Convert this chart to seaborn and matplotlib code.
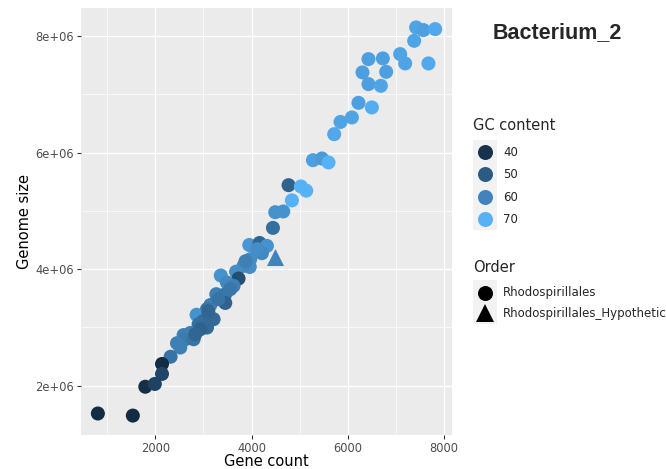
import numpy as np
import pandas as pd
import matplotlib
matplotlib.use("Agg")
import matplotlib.pyplot as plt
from matplotlib.colors import ListedColormap, Normalize
from matplotlib.lines import Line2D
from matplotlib.patches import Rectangle
import seaborn as sns

# ---- data -------------------------------------------------------------
gene_count = [7421, 7573, 7816, 7380, 7089, 7193, 7677, 6430, 6729, 6306,
              6798, 6430, 6688, 6223, 6501, 6086, 5849, 5718, 5276, 5463,
              5600, 4769, 5026, 5137, 4839, 4493, 4659, 4445, 3953, 4167,
              4320, 4216, 3973, 3963, 3834, 3678, 3361, 3730, 3489, 3626,
              3267, 3454, 3454, 3143, 3074, 2858, 3143, 3003, 3211, 2900,
              3074, 2727, 2588, 2623, 2451, 2796, 2519, 2318, 2935, 2831,
              3101, 3309, 3558, 3875, 4119, 2139, 2139, 1792, 1990, 806,
              1533, 4493]
genome_size = [8.149e6, 8.103e6, 8.120e6, 7.919e6, 7.691e6, 7.531e6, 7.531e6,
               7.605e6, 7.617e6, 7.377e6, 7.387e6, 7.176e6, 7.147e6, 6.855e6,
               6.776e6, 6.604e6, 6.527e6, 6.317e6, 5.871e6, 5.900e6, 5.832e6,
               5.442e6, 5.420e6, 5.348e6, 5.181e6, 4.978e6, 4.991e6, 4.709e6,
               4.415e6, 4.450e6, 4.400e6, 4.275e6, 4.172e6, 4.038e6, 4.057e6,
               3.957e6, 3.892e6, 3.840e6, 3.772e6, 3.713e6, 3.571e6, 3.571e6,
               3.421e6, 3.385e6, 3.313e6, 3.219e6, 3.171e6, 3.112e6, 3.142e6,
               3.056e6, 2.999e6, 2.906e6, 2.870e6, 2.798e6, 2.730e6, 2.798e6,
               2.656e6, 2.498e6, 2.970e6, 2.884e6, 3.279e6, 3.485e6, 3.657e6,
               4.137e6, 4.343e6, 2.374e6, 2.203e6, 1.983e6, 2.031e6, 1.524e6,
               1.488e6, 4.201e6]
gc_content = [67, 66, 68, 67, 67, 67, 68, 66, 66, 66,
              66, 66, 67, 66, 69, 67, 67, 68, 66, 65,
              70, 52, 70, 70, 70, 63, 63, 55, 64, 53,
              63, 61, 62, 62, 61, 62, 63, 47, 61, 59,
              59, 57, 52, 59, 56, 63, 54, 54, 54, 55,
              54, 59, 59, 58, 59, 56, 59, 56, 52, 53,
              53, 56, 57, 59, 62, 38, 45, 39, 44, 38,
              38, 60]
order = ["Rhodospirillales"] * 71 + ["Rhodospirillales_Hypothetic"]

order_levels = ["Rhodospirillales", "Rhodospirillales_Hypothetic"]
gc_breaks = [40, 50, 60, 70]

df = pd.DataFrame({"gene": gene_count, "genome": genome_size,
                   "gc": gc_content, "order": order})


# ---- colour gradient interpolated in CIE Lab ---------------------------
def _hex_to_rgb(h):
    h = h.lstrip("#")
    return np.array([int(h[i:i + 2], 16) / 255 for i in (0, 2, 4)])

_M = np.array([[0.4124, 0.3576, 0.1805],
               [0.2126, 0.7152, 0.0722],
               [0.0193, 0.1192, 0.9505]])
_WHITE = np.array([0.95047, 1.0, 1.08883])

def _rgb_to_lab(rgb):
    lin = np.where(rgb <= 0.04045, rgb / 12.92, ((rgb + 0.055) / 1.055) ** 2.4)
    xyz = _M @ lin / _WHITE
    f = np.where(xyz > 216 / 24389, np.cbrt(xyz), (24389 / 27 * xyz + 16) / 116)
    return np.array([116 * f[1] - 16, 500 * (f[0] - f[1]), 200 * (f[1] - f[2])])

def _lab_to_rgb(lab):
    fy = (lab[0] + 16) / 116
    fx = fy + lab[1] / 500
    fz = fy - lab[2] / 200
    f = np.array([fx, fy, fz])
    xyz = np.where(f ** 3 > 216 / 24389, f ** 3, (116 * f - 16) / (24389 / 27))
    lin = np.linalg.solve(_M, xyz * _WHITE)
    rgb = np.where(lin <= 0.0031308, 12.92 * lin, 1.055 * np.clip(lin, 0, None) ** (1 / 2.4) - 0.055)
    return np.clip(rgb, 0, 1)

lab_lo = _rgb_to_lab(_hex_to_rgb("#132B43"))
lab_hi = _rgb_to_lab(_hex_to_rgb("#56B1F7"))
gradient = ListedColormap([_lab_to_rgb(lab_lo + t * (lab_hi - lab_lo))
                           for t in np.linspace(0, 1, 256)])
gc_norm = Normalize(vmin=min(gc_content), vmax=max(gc_content))

# ---- theme ----------------------------------------------------------------
sns.set_theme(style="darkgrid", rc={
    "axes.facecolor": "#EBEBEB",
    "grid.color": "white",
    "figure.facecolor": "white",
})
plt.rcParams["font.family"] = ["DejaVu Sans"]

W, H = 666, 469
fig = plt.figure(figsize=(W / 100, H / 100), dpi=100)
ax = fig.add_axes([81 / W, 34 / H, 371 / W, 427 / H])

circles = df[df["order"] == order_levels[0]]
triangles = df[df["order"] == order_levels[1]]

sns.scatterplot(data=circles, x="gene", y="genome", hue="gc",
                palette=gradient, hue_norm=gc_norm, marker="o", s=102,
                linewidth=0, legend=False, ax=ax, zorder=3)
sns.scatterplot(data=triangles, x="gene", y="genome", hue="gc",
                palette=gradient, hue_norm=gc_norm, marker="^", s=150,
                linewidth=0, legend=False, ax=ax, zorder=3)

# ggplot-style 5% expansion of the data range
def _expand(vals, f=0.05):
    lo, hi = min(vals), max(vals)
    pad = (hi - lo) * f
    return lo - pad, hi + pad

ax.set_xlim(*_expand(gene_count))
ax.set_ylim(*_expand(genome_size))

ax.set_xticks([2000, 4000, 6000, 8000])
ax.set_xticks([1000, 3000, 5000, 7000], minor=True)
ax.set_yticks([2e6, 4e6, 6e6, 8e6])
ax.set_yticklabels(["2e+06", "4e+06", "6e+06", "8e+06"])
ax.set_yticks([3e6, 5e6, 7e6], minor=True)

ax.grid(which="major", color="white", linewidth=1.0)
ax.grid(which="minor", color="white", linewidth=0.5)
ax.set_axisbelow(True)
for sp in ax.spines.values():
    sp.set_visible(False)

ax.tick_params(axis="both", which="major", length=3, width=0.8,
               color="#333333", labelcolor="#4D4D4D", labelsize=8.3, pad=2,
               bottom=True, left=True)
ax.tick_params(axis="both", which="minor", length=0)

ax.set_xlabel("Gene count", fontsize=10.5, color="black")
ax.xaxis.set_label_coords(0.5, -26 / 427)
ax.xaxis.label.set_va("center")
ax.set_ylabel("Genome size", fontsize=10.5, color="black")
ax.yaxis.set_label_coords(-56 / 371, 0.5)
ax.yaxis.label.set_va("center")

# ---- title ------------------------------------------------------------------
def fx(px):
    return px / W

def fy(py):
    return 1 - py / H

fig.text(fx(557), fy(33), "Bacterium_2", fontsize=15.5, fontweight="bold",
         family="Liberation Sans", ha="center", va="center")

# ---- legends drawn in figure space -----------------------------------------
key_x = 485
lab_x = 503

fig.text(fx(473), fy(126), "GC content", fontsize=10.5, ha="left", va="center")
fig.add_artist(Rectangle((fx(473), fy(230)), fx(24), 90 / H,
                         transform=fig.transFigure, facecolor="#F2F2F2",
                         edgecolor="none"))
for b, ky in zip(gc_breaks, [152, 174.5, 197, 219.5]):
    fig.add_artist(Line2D([fx(key_x)], [fy(ky)], marker="o", markersize=10.8,
                          markeredgewidth=0, color=gradient(gc_norm(b)),
                          transform=fig.transFigure, linestyle="none"))
    fig.text(fx(lab_x), fy(ky), str(b), fontsize=8.5, ha="left", va="center")

fig.text(fx(473), fy(267), "Order", fontsize=10.5, ha="left", va="center")
fig.add_artist(Rectangle((fx(473), fy(324)), fx(24), 44 / H,
                         transform=fig.transFigure, facecolor="#F2F2F2",
                         edgecolor="none"))
for lvl, mk, ms, ky in zip(order_levels, ["o", "^"], [10.8, 13], [292.5, 313]):
    fig.add_artist(Line2D([fx(key_x)], [fy(ky)], marker=mk, markersize=ms,
                          markeredgewidth=0, color="black",
                          transform=fig.transFigure, linestyle="none"))
    fig.text(fx(lab_x), fy(ky), lvl, fontsize=8.5, ha="left", va="center")

fig.savefig("out.png", dpi=100)
